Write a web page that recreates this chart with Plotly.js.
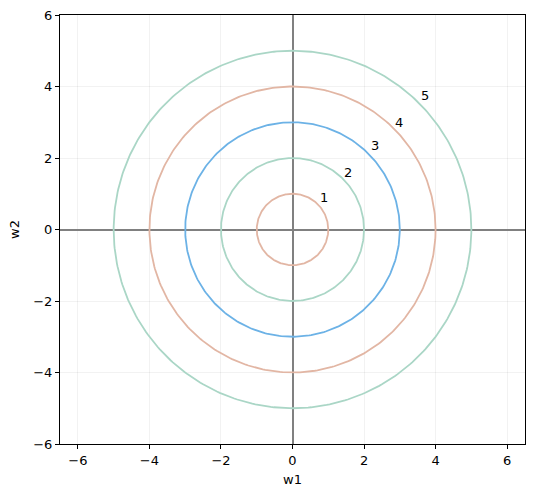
<!DOCTYPE html>
<html>
<head>
<meta charset="utf-8">
<script src="https://cdn.plot.ly/plotly-3.0.1.min.js"></script>
<style>html,body{margin:0;padding:0;background:#fff;}#chart{width:534px;height:498px;}</style>
</head>
<body>
<div id="chart"></div>
<script>
// contour levels (radius of each circle of w1^2 + w2^2 = r^2)
const radii = [1, 2, 3, 4, 5];
const lineColors = ['rgb(226,182,164)', 'rgb(170,214,198)', 'rgb(108,178,230)', 'rgb(226,182,164)', 'rgb(170,214,198)'];
const labelText = ['1', '2', '3', '4', '5'];
// label positions
const labelX = [0.89, 1.56, 2.32, 2.99, 3.71];
const labelY = [0.90, 1.59, 2.35, 2.99, 3.75];
const tickVals = [-6, -4, -2, 0, 2, 4, 6];

const nPts = 361;
const traces = radii.map((r, i) => {
  const xs = [], ys = [];
  for (let k = 0; k < nPts; k++) {
    const t = 2 * Math.PI * k / (nPts - 1);
    xs.push(r * Math.cos(t));
    ys.push(r * Math.sin(t));
  }
  return {x: xs, y: ys, type: 'scatter', mode: 'lines',
          line: {color: lineColors[i], width: 1.8}, hoverinfo: 'skip', showlegend: false};
});

const font = {family: 'DejaVu Sans, sans-serif', size: 13, color: '#000'};
const annotations = labelText.map((t, i) => ({
  x: labelX[i], y: labelY[i], xref: 'x', yref: 'y', text: t, showarrow: false,
  font: {family: 'DejaVu Sans, sans-serif', size: 13, color: '#000'}
}));

const axisCommon = {
  tickvals: tickVals, ticks: 'outside', ticklen: 4, tickwidth: 1, tickcolor: '#000',
  showline: true, linecolor: '#000', linewidth: 1, mirror: true,
  showgrid: true, gridcolor: 'rgba(0,0,0,0.05)', gridwidth: 1,
  zeroline: true, zerolinecolor: 'rgb(128,128,128)', zerolinewidth: 2,
  tickfont: font
};

const layout = {
  width: 534, height: 498,
  margin: {l: 60, r: 9, t: 15, b: 54},
  paper_bgcolor: '#fff', plot_bgcolor: '#fff',
  xaxis: Object.assign({}, axisCommon, {range: [-6.5, 6.5], title: {text: 'w1', font: font, standoff: 8}}),
  yaxis: Object.assign({}, axisCommon, {range: [-6, 6], title: {text: 'w2', font: font, standoff: 10}}),
  annotations: annotations
};

Plotly.newPlot('chart', traces, layout, {staticPlot: true, displayModeBar: false});
</script>
</body>
</html>
